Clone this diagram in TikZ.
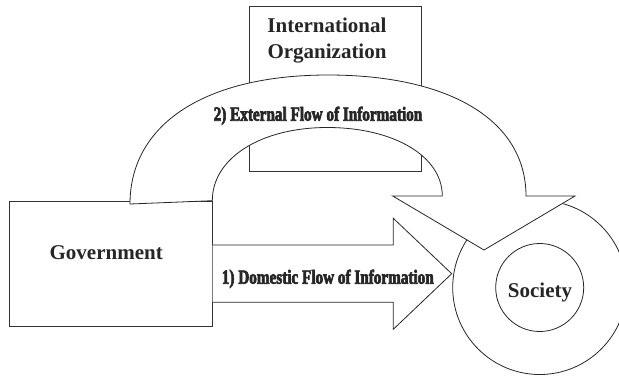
\documentclass[tikz,border=0pt]{standalone}
\usepackage{fontspec}
\setmainfont{Liberation Serif}
% narrow, heavy face for the flow captions
\newfontfamily\heavyfont{Liberation Serif Bold}[FakeStretch=0.76,FakeBold=3]
\begin{document}
\begin{tikzpicture}[x=1pt,y=-1pt,line join=miter,
  box/.style={draw=black!80,line width=1pt,fill=white},
  blockarrow/.style={draw=black!85,fill=white,line width=0.8pt},
  ring/.style={circle,draw=black!85,line width=0.8pt,inner sep=0pt},
  caption/.style={font=\fontsize{21}{26}\selectfont\bfseries,text=black!85,align=center,inner sep=0pt},
  flowcaption/.style={font=\heavyfont\fontsize{20}{24}\selectfont,text=black!85,inner sep=0pt,anchor=base}]
\useasboundingbox (0,0) rectangle (619,376);

% actors
\draw[box] (9.3,201) rectangle (212.7,326.7);
\node[caption] (gov) at (106.2,252.7) {Government};
\draw[box] (249.3,6.7) rectangle (421,171.7);
\node[caption] (io) at (327,41) {International\\Organization};

% society: inner circle inside a ring
\node[ring,minimum size=174pt] (outer) at (539.7,287.5) {};
\node[ring,minimum size=88pt] (inner) at (539.7,287.5) {};
\node[caption] (society) at (540,292) {Society};

% 1) domestic flow: straight block arrow from the government box
\coordinate (dtip) at (451.7,273.7);
\draw[blockarrow] (212.7,245) -- (393.3,245) -- (393.3,218.3) -- (dtip)
  -- (393.3,329.3) -- (393.3,302.3) -- (212.7,302.3);
\node[flowcaption] (domestic) at (327.8,283.7) {1) Domestic Flow of Information};

% 2) external flow: arched block arrow over the international organization
\coordinate (etip) at (484,250);
\draw[blockarrow] (130,204)
  .. controls (130,124) and (205.2,75) .. (328,75)
  .. controls (450.8,75) and (526,121) .. (526,196)
  -- (575,196) -- (etip) -- (392.7,196) -- (442.3,196)
  .. controls (442.3,156.3) and (394,127.5) .. (327.3,127.5)
  .. controls (260.6,127.5) and (212.3,158.2) .. (212.3,200.7) -- cycle;
\node[flowcaption] (external) at (318,120.7) {2) External Flow of Information};
\end{tikzpicture}
\end{document}
